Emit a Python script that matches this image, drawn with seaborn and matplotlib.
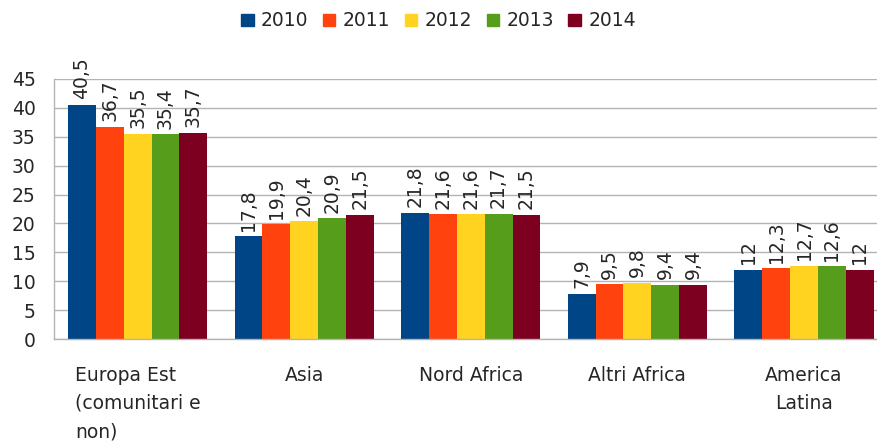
import pandas as pd
import seaborn as sns
import matplotlib.pyplot as plt

# Data
regions = ['Europa Est\n(comunitari e\nnon)', 'Asia', 'Nord Africa', 'Altri Africa', 'America\nLatina']
years = ['2010', '2011', '2012', '2013', '2014']
v2010 = [40.5, 17.8, 21.8, 7.9, 12.0]
v2011 = [36.7, 19.9, 21.6, 9.5, 12.3]
v2012 = [35.5, 20.4, 21.6, 9.8, 12.7]
v2013 = [35.4, 20.9, 21.7, 9.4, 12.6]
v2014 = [35.7, 21.5, 21.5, 9.4, 12.0]
colors = ['#004586', '#ff420e', '#ffd320', '#579d1c', '#7e0021']

series = [v2010, v2011, v2012, v2013, v2014]
rows = []
for y, vals in zip(years, series):
    for r, v in zip(regions, vals):
        rows.append({'region': r, 'year': y, 'value': v})
df = pd.DataFrame(rows)

sns.set_style('white')
plt.rcParams['font.family'] = ['DejaVu Sans']
fs = 13.5

fig = plt.figure(figsize=(8.77, 4.41), dpi=100)
ax = fig.add_axes([54.3 / 877, 101.7 / 441, 833 / 877, 260.6 / 441])

sns.barplot(data=df, x='region', y='value', hue='year', palette=colors,
            width=0.835, dodge=True, saturation=1, linewidth=0, ax=ax, legend=False)

# value labels, italian decimal comma
for cont, vals in zip(ax.containers, series):
    labs = [f'{v:g}'.replace('.', ',') for v in vals]
    ax.bar_label(cont, labels=labs, rotation=90, padding=4, fontsize=fs)

ax.set_ylim(0, 45)
ax.set_xlim(-0.5, 4.5)
ax.set_yticks(range(0, 46, 5))
ax.yaxis.grid(True, color='#b3b3b3', linewidth=1)
ax.set_axisbelow(True)
ax.set_xlabel('')
ax.set_ylabel('')

for s in ['top', 'right']:
    ax.spines[s].set_visible(False)
for s in ['left', 'bottom']:
    ax.spines[s].set_color('#b3b3b3')
    ax.spines[s].set_linewidth(1)

ax.tick_params(axis='y', length=7.5, color='#b3b3b3', width=1, labelsize=fs, pad=6)
ax.tick_params(axis='x', which='major', length=0, labelsize=fs, pad=19)
ax.set_xticks([i - 0.5 for i in range(6)], minor=True)
ax.tick_params(axis='x', which='minor', length=9, color='#b3b3b3', width=1)

for i, t in enumerate(ax.get_xticklabels()):
    t.set_linespacing(1.62)
    t.set_multialignment('left' if i == 0 else 'center')

handles = [plt.Rectangle((0, 0), 1, 1, color=c) for c in colors]
fig.legend(handles, years, loc='center', bbox_to_anchor=(0.5, 1 - 21 / 441),
           ncol=5, frameon=False, fontsize=fs, handlelength=0.66, handleheight=0.66,
           handletextpad=0.4, columnspacing=0.77)

plt.savefig('out.png', dpi=100)
